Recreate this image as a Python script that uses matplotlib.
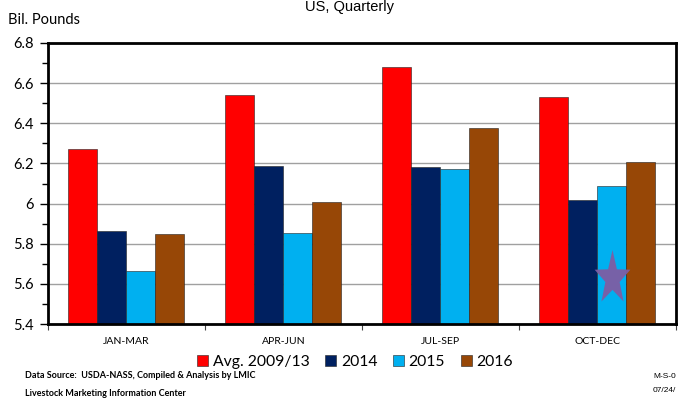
import matplotlib
matplotlib.use("Agg")
import matplotlib.pyplot as plt
import numpy as np
from matplotlib.path import Path
from matplotlib.ticker import MultipleLocator, FixedLocator, NullFormatter

categories = ["JAN-MAR", "APR-JUN", "JUL-SEP", "OCT-DEC"]
series_names = ["Avg. 2009/13", "2014", "2015", "2016"]
avg_0913 = [6.27, 6.54, 6.68, 6.53]
y2014 = [5.865, 6.185, 6.18, 6.02]
y2015 = [5.665, 5.855, 6.17, 6.09]
y2016 = [5.85, 6.01, 6.375, 6.205]
colors = ["#FF0000", "#002060", "#00B0F0", "#974706"]
star_value = 5.63  # marker drawn on OCT-DEC 2015 bar

series = [avg_0913, y2014, y2015, y2016]

fig = plt.figure(figsize=(6.78, 4.03), dpi=100)
ax = fig.add_axes([48/678, 1-324/403, (675.5-48)/678, (324-43)/403])

x = np.arange(len(categories))
bw = 0.185
offsets = (np.arange(4) - 1.5) * bw
for vals, off, c, name in zip(series, offsets, colors, series_names):
    ax.bar(x + off, np.array(vals) - 5.4, bottom=5.4, width=bw, color=c,
           edgecolor="#222222", linewidth=0.4, label=name, zorder=3)

# star marker (narrow five-point star)
ang = np.pi/2 + np.arange(10) * np.pi/5
rad = np.where(np.arange(10) % 2 == 0, 1.0, 0.40)
verts = np.column_stack([0.66*rad*np.cos(ang), rad*np.sin(ang)])
verts = np.vstack([verts, verts[:1]])
star = Path(verts, closed=True)
ax.plot([x[3] + offsets[2]], [star_value], marker=star, markersize=41,
        color="#7E5DA3", markeredgewidth=0, linestyle="none", zorder=5, alpha=0.95)

ax.set_xlim(-0.5, 3.5)
ax.set_ylim(5.4, 6.8)
ax.yaxis.set_minor_locator(MultipleLocator(0.1))
ticks = np.arange(5.4, 6.81, 0.2)
ax.set_yticks(ticks)
ax.set_yticklabels(["5.4", "5.6", "5.8", "6", "6.2", "6.4", "6.6", "6.8"],
                   fontfamily="Lato", fontsize=10.5)
ax.grid(axis="y", color="#A0A0A0", linewidth=1.0, zorder=0)
ax.tick_params(axis="y", which="major", direction="out", length=6, width=1, pad=4)
ax.tick_params(axis="y", which="minor", direction="out", length=4, width=1)

ax.set_xticks(x)
ax.set_xticklabels(categories, fontfamily="Lato", fontsize=7.5)
ax.tick_params(axis="x", which="major", length=0, pad=9)
ax.xaxis.set_minor_locator(FixedLocator([-0.5, 0.5, 1.5, 2.5, 3.5]))
ax.xaxis.set_minor_formatter(NullFormatter())
ax.tick_params(axis="x", which="minor", direction="out", length=4, width=0.8, color="#444444")

for s in ax.spines.values():
    s.set_linewidth(2)
    s.set_color("black")
    s.set_zorder(6)

fig.text(350/678, 1.0, "US, Quarterly", ha="center", va="top",
         fontfamily="Liberation Sans", fontsize=10.5)
fig.text(8/678, 1-20/403, "Bil. Pounds", ha="left", va="center",
         fontfamily="Lato", fontsize=10.5)

leg = fig.legend(loc="center", bbox_to_anchor=(355/678, 1-362/403), ncol=4,
                 frameon=False, prop={"family": "Lato", "size": 11.3},
                 handlelength=0.7, handleheight=0.7, handletextpad=0.3,
                 columnspacing=1.0, borderaxespad=0)

fig.text(25/678, 1-376/403, "Data Source:  USDA-NASS, Compiled & Analysis by LMIC",
         ha="left", va="center", fontfamily="Lato", fontsize=6.5, fontweight="bold")
fig.text(25/678, 1-393/403, "Livestock Marketing Information Center",
         ha="left", va="center", fontfamily="Lato", fontsize=6.5, fontweight="bold")
fig.text(676/678, 1-377/403, "M-S-0", ha="right", va="center",
         fontfamily="Liberation Sans", fontsize=6)
fig.text(676/678, 1-390/403, "07/24/", ha="right", va="center",
         fontfamily="Liberation Sans", fontsize=6)

fig.savefig("out.png", dpi=100)
